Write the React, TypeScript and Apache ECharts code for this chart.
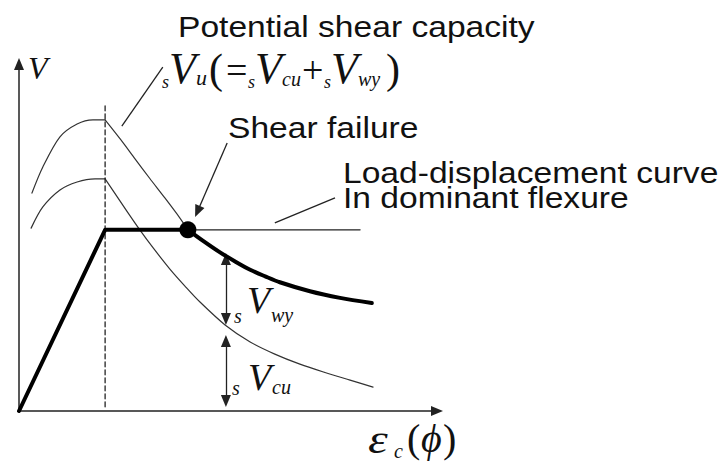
import React, { useEffect, useRef } from "react";
import * as echarts from "echarts";

// Normalised axes: displacement (x) and shear force V (y), both 0..100
const X_MAX = 100;
const Y_MAX = 100;

// Load-displacement curve in dominant flexure (thick)
const flexureRise = [[0, 0], [20.6, 52.2], [40.4, 52.2]];
const flexurePlateauExt = [[40.4, 52.2], [81.6, 52.2]];
const postFailure = [[40.4, 52.2], [44.3, 48.8], [48.1, 45.7], [51.7, 43.1], [55.3, 40.7], [58.9, 38.8], [62.4, 37.1], [69.6, 34.5], [76.8, 32.6], [84.4, 31.1]];

// Potential shear capacity sVu
const vuRise = [[3.1, 62.8], [5.7, 70.3], [9.8, 79.0], [13.9, 82.7], [17.7, 83.9], [20.6, 83.9]];
const vuFall = [[20.6, 83.9], [24.2, 78.4], [27.8, 72.6], [31.3, 67.0], [34.9, 61.4], [38.5, 55.6], [40.4, 52.2]];

// Concrete contribution sVcu
const vcuRise = [[2.9, 52.7], [5.7, 58.8], [9.8, 63.7], [13.9, 66.0], [18.2, 66.9], [20.6, 66.9]];
const vcuFall = [[20.6, 66.9], [25.8, 57.6], [28.9, 52.2], [32.1, 47.0], [36.1, 40.9], [39.7, 36.0], [43.3, 31.4], [49.3, 24.8], [55.3, 19.9], [61.2, 16.4], [67.2, 13.5], [73.2, 11.1], [79.2, 8.9], [84.7, 6.9]];

// Yield displacement marker and shear failure point
const yieldLine = [[20.6, 1.2], [20.6, 87.9]];
const failurePoint = [[40.4, 52.2]];

// Dimension arrows and leader lines
const vwyArrow = [[49.5, 43.8], [49.5, 26.5]];
const vcuArrow = [[49.5, 20.2], [49.5, 2.9]];
const failurePointer = [[49.8, 77.2], [42.7, 57.5]];
const flexureLeader = [[61.2, 54.2], [75.6, 61.4]];
const capacityLeader = [[24.6, 82.1], [34.4, 99.1]];

const SANS = '"Liberation Sans", Arial, sans-serif';
const SERIF = '"Liberation Serif", "Times New Roman", "DejaVu Serif", serif';
const INK = "#111";

function curve(name: string, data: number[][], width: number, color: string, smooth: number | boolean, dashed = false) {
  return {
    name,
    type: "line",
    data,
    smooth,
    symbol: "none",
    silent: true,
    lineStyle: { width, color, type: dashed ? [5, 3] : "solid", cap: "round", join: "round" },
    emphasis: { disabled: true },
    z: width > 2 ? 5 : 3,
  };
}

function guide(name: string, pts: number[][], symbols: string[]) {
  return {
    name,
    type: "line",
    data: [],
    symbol: "none",
    silent: true,
    markLine: {
      silent: true,
      animation: false,
      symbol: symbols,
      symbolSize: [10, 12],
      label: { show: false },
      emphasis: { disabled: true },
      lineStyle: { color: "#222", width: 1.3, type: "solid" },
      data: [[{ coord: pts[0] }, { coord: pts[1] }]],
    },
  };
}

// Text helper: x = left edge, y = alphabetic baseline
function txt(text: string, x: number, baseline: number, size: number, opts: { italic?: boolean; serif?: boolean; sx?: number } = {}) {
  const k = opts.serif ? 0.34 : 0.35;
  return {
    type: "text",
    x,
    y: baseline - k * size,
    scaleX: opts.sx ?? 1,
    silent: true,
    style: {
      text,
      fill: INK,
      font: `${opts.italic ? "italic " : ""}${size}px ${opts.serif ? SERIF : SANS}`,
      align: "left",
      verticalAlign: "middle",
    },
  };
}

const SX = 1.12;
const IT = { italic: true, serif: true };
const RM = { serif: true };

export default function App() {
  const ref = useRef<HTMLDivElement>(null);

  useEffect(() => {
    if (!ref.current) return;
    const chart = echarts.init(ref.current, undefined, { renderer: "svg" });
    const axisCommon = {
      type: "value",
      min: 0,
      axisTick: { show: false },
      axisLabel: { show: false },
      splitLine: { show: false },
      axisLine: {
        show: true,
        onZero: false,
        symbol: ["none", "triangle"],
        symbolSize: [10, 12],
        lineStyle: { color: "#222", width: 1.5 },
      },
    };
    chart.setOption({
      animation: false,
      backgroundColor: "#fff",
      grid: { left: 19, top: 64, width: 418, height: 347 },
      xAxis: { ...axisCommon, max: X_MAX },
      yAxis: { ...axisCommon, max: Y_MAX },
      series: [
        curve("sVu rise", vuRise, 1.2, "#333", 0.3),
        curve("sVu fall", vuFall, 1.2, "#333", 0.3),
        curve("sVcu rise", vcuRise, 1.2, "#333", 0.3),
        curve("sVcu fall", vcuFall, 1.2, "#333", 0.3),
        curve("yield", yieldLine, 1.3, "#222", false, true),
        curve("plateau", flexurePlateauExt, 1.3, "#222", false),
        curve("flexure", flexureRise, 4, "#000", false),
        curve("post failure", postFailure, 4, "#000", 0.3),
        {
          name: "shear failure",
          type: "scatter",
          data: failurePoint,
          symbol: "circle",
          symbolSize: 17,
          silent: true,
          itemStyle: { color: "#000", opacity: 1 },
          z: 6,
        },
        guide("sVwy arrow", vwyArrow, ["triangle", "triangle"]),
        guide("sVcu arrow", vcuArrow, ["triangle", "triangle"]),
        guide("failure pointer", failurePointer, ["none", "triangle"]),
        guide("flexure leader", flexureLeader, ["none", "none"]),
        guide("capacity leader", capacityLeader, ["none", "none"]),
      ],
      graphic: [
        txt("Potential shear capacity", 178, 37, 30, { sx: SX }),
        txt("Shear failure", 228, 138, 30, { sx: SX }),
        txt("Load-displacement curve", 343, 183, 30, { sx: SX }),
        txt("In dominant flexure", 343, 208, 30, { sx: SX }),
        // sVu(=sVcu+sVwy)
        txt("s", 162, 88, 18, IT),
        txt("V", 169, 83, 44, IT),
        txt("u", 196, 85, 22, IT),
        txt("(", 209, 83, 42, RM),
        txt("=", 226, 83, 38, RM),
        txt("s", 248, 88, 18, IT),
        txt("V", 255, 83, 44, IT),
        txt("cu", 282, 86, 20, IT),
        txt("+", 302, 83, 38, RM),
        txt("s", 324, 88, 18, IT),
        txt("V", 331, 83, 44, IT),
        txt("wy", 358, 86, 20, IT),
        txt(")", 386, 83, 42, RM),
        // axis names
        txt("V", 28, 79, 32, IT),
        txt("ε", 368, 453, 40, { ...IT, sx: 1.25 }),
        txt("c", 394, 458, 20, IT),
        txt("(", 407, 452, 40, RM),
        txt("ϕ", 421, 452, 40, IT),
        txt(")", 443, 452, 40, RM),
        // component labels
        txt("s", 234, 323, 20, IT),
        txt("V", 247, 313, 38, IT),
        txt("wy", 271, 322, 20, IT),
        txt("s", 232, 395, 20, IT),
        txt("V", 248, 390, 38, IT),
        txt("cu", 272, 394, 20, IT),
      ],
    });
    return () => chart.dispose();
  }, []);

  return (
    <div
      ref={ref}
      style={{ position: "fixed", left: 0, top: 0, width: 727, height: 461, background: "#fff" }}
    />
  );
}
